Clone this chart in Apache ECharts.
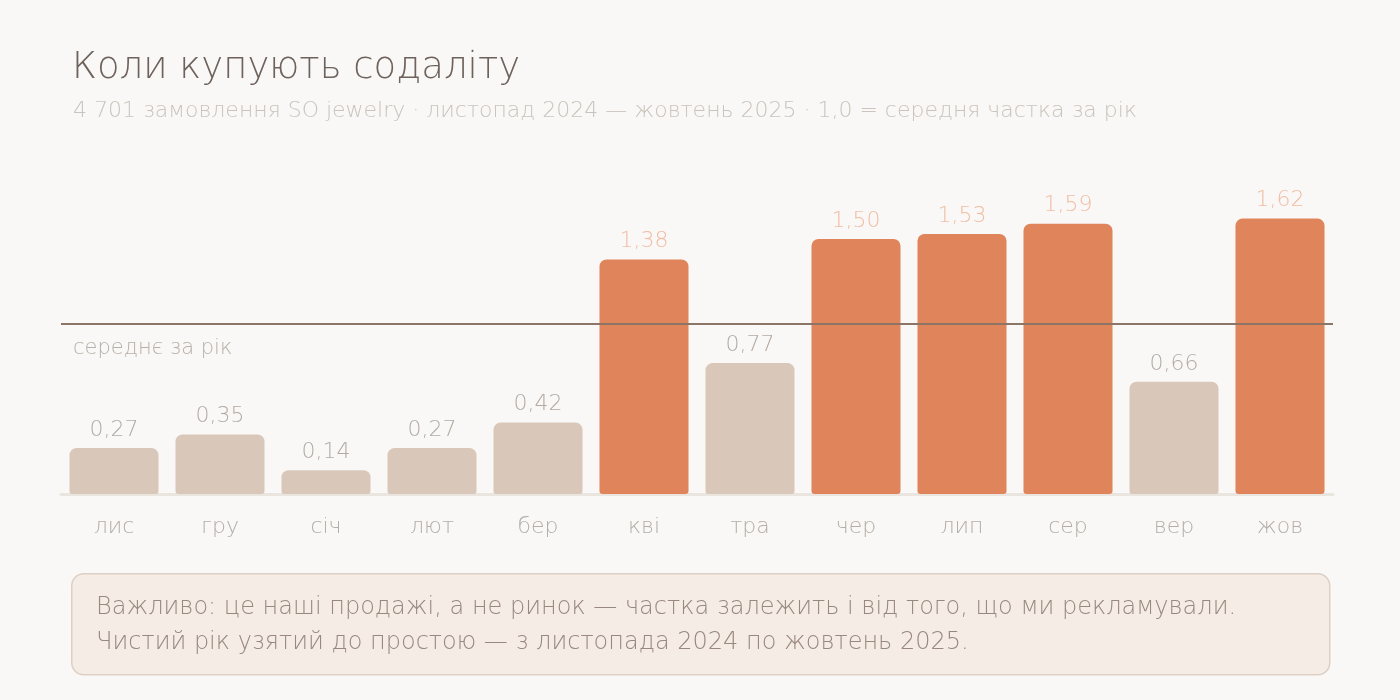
<!DOCTYPE html>
<html>
<head>
<meta charset="utf-8">
<script src="https://cdn.jsdelivr.net/npm/echarts@6/dist/echarts.min.js"></script>
<style>
  html, body { margin: 0; padding: 0; background: #faf8f6; }
  #chart { width: 1400px; height: 700px; }
</style>
</head>
<body>
<div id="chart"></div>
<script>
// months Nov 2024 - Oct 2025
var months = ['лис', 'гру', 'січ', 'лют', 'бер', 'кві', 'тра', 'чер', 'лип', 'сер', 'вер', 'жов'];
// share of month vs yearly average (1,0 = average)
var shares = [0.27, 0.35, 0.14, 0.27, 0.42, 1.38, 0.77, 1.50, 1.53, 1.59, 0.66, 1.62];
var avgLevel = 1.0;

var titleText = 'Коли купують содаліту';
var subText = '4 701 замовлення SO jewelry · листопад 2024 — жовтень 2025 · 1,0 = середня частка за рік';
var noteLines = [
    'Важливо: це наші продажі, а не ринок — частка залежить і від того, що ми рекламували.',
    'Чистий рік узятий до простою — з листопада 2024 по жовтень 2025.'
];

var FONT = '"DejaVu Sans", sans-serif';

var chart = echarts.init(document.getElementById('chart'));

var barData = shares.map(function(v) {
    var hot = v >= avgLevel;
    return {
        value: v,
        itemStyle: { color: hot ? '#e0855b' : '#d9c8ba' },
        label: { color: hot ? '#f0bda4' : '#b3aaa4' }
    };
});

var option = {
    backgroundColor: '#faf8f6',
    animation: false,
    title: [{
        text: titleText,
        left: 67, top: 45,
        textStyle: { fontFamily: FONT, fontWeight: 200, fontSize: 37, color: '#6e625c' }
    }, {
        text: subText,
        left: 68, top: 95,
        textStyle: { fontFamily: FONT, fontWeight: 200, fontSize: 22, color: '#cbc3bd' }
    }],
    grid: { left: 61, right: 67, top: 154, bottom: 206 },
    xAxis: {
        type: 'category',
        data: months,
        axisTick: { show: false },
        axisLine: { show: true, lineStyle: { color: '#ebe5df', width: 3 } },
        axisLabel: { margin: 22, fontFamily: FONT, fontWeight: 200, fontSize: 22, color: '#b5ada8' }
    },
    yAxis: {
        type: 'value',
        min: 0, max: 2,
        show: false,
        splitLine: { show: false }
    },
    series: [{
        type: 'bar',
        data: barData,
        barCategoryGap: '16%',
        itemStyle: { borderRadius: [7, 7, 3, 3] },
        label: {
            show: true,
            position: 'top',
            distance: 7,
            fontFamily: FONT, fontWeight: 200, fontSize: 22,
            formatter: function(p) { return p.value.toFixed(2).replace('.', ','); }
        },
        markLine: {
            silent: true,
            symbol: 'none',
            lineStyle: { color: '#8c7466', width: 2, type: 'solid' },
            label: {
                show: true,
                position: 'insideStartBottom',
                formatter: 'середнє за рік',
                fontFamily: FONT, fontWeight: 200, fontSize: 21, color: '#b8b0aa',
                distance: [12, 14]
            },
            data: [{ yAxis: avgLevel }]
        }
    }],
    graphic: [{
        type: 'rect',
        left: 71, top: 573,
        shape: { width: 1258, height: 101, r: 12 },
        style: { fill: '#f5ece6', stroke: '#ddcfc3', lineWidth: 1.5 }
    }, {
        type: 'text',
        left: 96, top: 590,
        style: {
            text: noteLines.join('\n'),
            fontFamily: FONT, fontWeight: 200, fontSize: 24, lineHeight: 35,
            fill: '#988880'
        }
    }]
};

chart.setOption(option);
</script>
</body>
</html>
